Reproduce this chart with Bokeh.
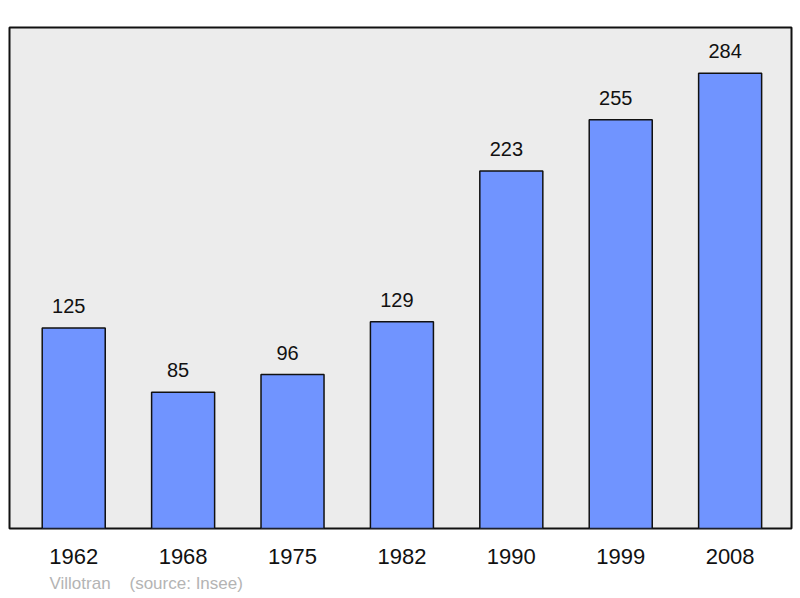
from bokeh.plotting import figure
from bokeh.models import ColumnDataSource, Range1d, LinearAxis, FixedTicker, Title
from bokeh.core.properties import value
from bokeh.embed import file_html
from bokeh.resources import INLINE

years = ["1962", "1968", "1975", "1982", "1990", "1999", "2008"]
population = [125, 85, 96, 129, 223, 255, 284]
commune = "Villotran"
source_note = "(source: Insee)"

FONT = "Liberation Sans"
xs = list(range(len(years)))
src = ColumnDataSource(dict(x=xs, pop=population, lab=[str(v) for v in population]))

p = figure(width=800, height=598, output_backend="svg", toolbar_location=None,
           x_range=Range1d(-0.587, 6.561), y_range=Range1d(0, 312.5),
           x_axis_type=None, y_axis_type=None,
           min_border_left=9, min_border_right=9, min_border_top=27, min_border_bottom=70)
p.background_fill_color = "#ececec"
p.border_fill_color = "white"
p.outline_line_color = "#111111"
p.outline_line_width = 2
p.xgrid.visible = False
p.ygrid.visible = False

p.vbar(x="x", top="pop", width=0.576, bottom=0, source=src,
       fill_color="#7094ff", line_color="#111111", line_width=1.5)
p.text(x="x", y="pop", text="lab", source=src, y_offset=-22, x_offset=-5,
       text_align="center", text_baseline="alphabetic",
       text_font=value(FONT), text_font_size="20px", text_color="#111111")

ax = LinearAxis(ticker=FixedTicker(ticks=xs),
                major_label_overrides={i: y for i, y in enumerate(years)})
ax.axis_line_color = None
ax.major_tick_line_color = None
ax.minor_tick_line_color = None
ax.major_tick_out = 0
ax.major_tick_in = 0
ax.major_label_standoff = 20
ax.major_label_text_font = FONT
ax.major_label_text_font_size = "22px"
ax.major_label_text_color = "#111111"
p.add_layout(ax, "below")

note = Title(text=commune + "\u00a0\u00a0\u00a0\u00a0" + source_note, align="left",
             offset=40, standoff=11, text_font=FONT, text_font_size="17px",
             text_font_style="normal", text_color="#b4b4b4")
p.add_layout(note, "below")

open("out.html", "w").write(file_html(p, INLINE))
